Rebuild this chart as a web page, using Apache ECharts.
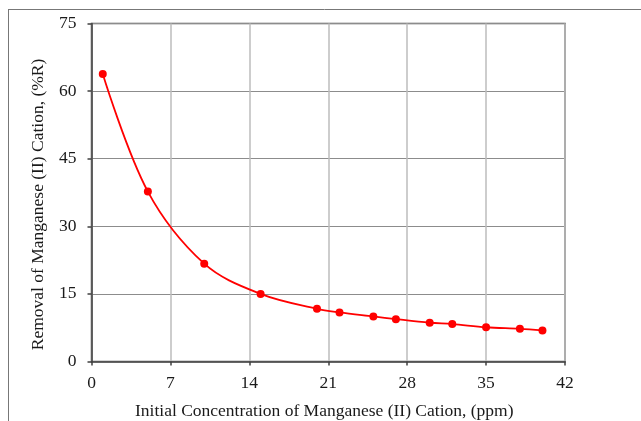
<!DOCTYPE html>
<html>
<head>
<meta charset="utf-8">
<script src="https://cdn.jsdelivr.net/npm/echarts@6/dist/echarts.min.js"></script>
<style>
  html, body { margin: 0; padding: 0; background: #fff; }
  #chart { width: 641px; height: 421px; }
</style>
</head>
<body>
<div id="chart"></div>
<script>
// Initial Mn(II) concentration (ppm) and removal percentage
const concentration = [1, 5, 10, 15, 20, 22, 25, 27, 30, 32, 35, 38, 40];
const removal = [63.8, 37.7, 21.7, 15.0, 11.7, 10.9, 10.0, 9.4, 8.6, 8.3, 7.6, 7.25, 6.9];
const xTicks = [0, 7, 14, 21, 28, 35, 42];
const yTicks = [0, 15, 30, 45, 60, 75];

const chart = echarts.init(document.getElementById('chart'), null, { renderer: 'canvas' });
const font = '"Liberation Serif", "Times New Roman", serif';

chart.setOption({
  animation: false,
  backgroundColor: '#ffffff',
  grid: {
    left: 91.5, top: 23.5, right: 76, bottom: 59.5,
    show: true, borderColor: '#555555', borderWidth: 1.5,
    containLabel: false, outerBoundsMode: 'none'
  },
  xAxis: {
    type: 'value',
    min: xTicks[0], max: xTicks[xTicks.length - 1], interval: 7,
    name: 'Initial Concentration of Manganese (II) Cation, (ppm)',
    nameLocation: 'middle', nameGap: 40.5,
    nameTextStyle: { fontFamily: font, fontSize: 17.5, color: '#1a1a1a', padding: [0, 8, 0, 0] },
    axisLine: { show: true, lineStyle: { color: '#404040', width: 1.5 } },
    axisTick: { show: true, inside: false, length: 4, lineStyle: { color: '#404040', width: 1.5 } },
    axisLabel: { fontFamily: font, fontSize: 17.5, color: '#1a1a1a', margin: 13 },
    splitLine: { show: true, lineStyle: { color: '#bdbdbd', width: 1.5 } }
  },
  yAxis: {
    type: 'value',
    min: yTicks[0], max: yTicks[yTicks.length - 1], interval: 15,
    name: 'Removal of Manganese (II) Cation, (%R)',
    nameLocation: 'middle', nameGap: 44,
    nameTextStyle: { fontFamily: font, fontSize: 17.5, color: '#1a1a1a', padding: [0, 24, 0, 0] },
    axisLine: { show: true, lineStyle: { color: '#404040', width: 1.5 } },
    axisTick: { show: true, inside: false, length: 4, lineStyle: { color: '#404040', width: 1.5 } },
    axisLabel: { fontFamily: font, fontSize: 17.5, color: '#1a1a1a', margin: 15 },
    splitLine: { show: true, lineStyle: { color: '#8c8c8c', width: 1 } }
  },
  series: [{
    type: 'line',
    data: concentration.map((c, i) => [c, removal[i]]),
    smooth: 0.35,
    symbol: 'circle',
    symbolSize: 8,
    itemStyle: { color: '#ff0000' },
    lineStyle: { color: '#ff0000', width: 1.8 }
  }],
  graphic: [
    { type: 'line', shape: { x1: 8, y1: 9.5, x2: 641, y2: 9.5 }, style: { stroke: '#777777', lineWidth: 1 } },
    { type: 'line', shape: { x1: 8.5, y1: 9, x2: 8.5, y2: 421 }, style: { stroke: '#777777', lineWidth: 1 } }
  ]
});
</script>
</body>
</html>
